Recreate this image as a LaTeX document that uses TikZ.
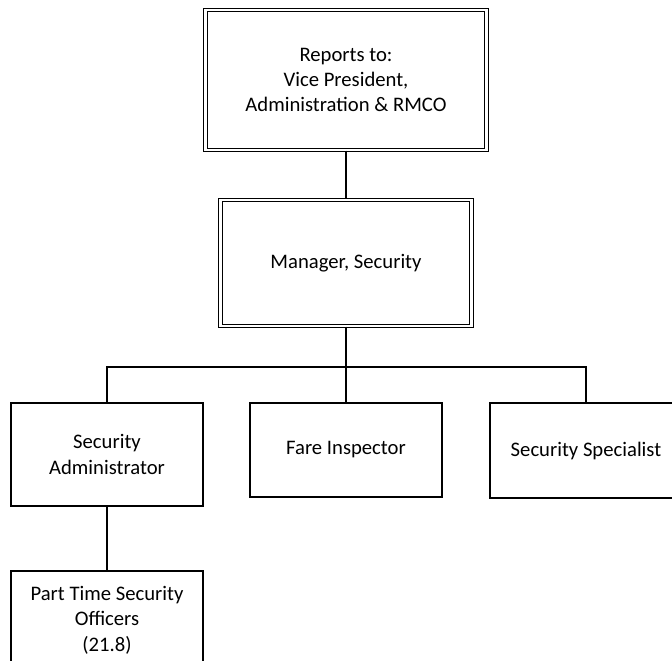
\documentclass[tikz,border=0pt]{standalone}
\usepackage{fontspec}
\setmainfont{Carlito}
\usepackage{tikz}
\usetikzlibrary{positioning}
\tikzset{headbox/.style={rectangle,draw,double,line width=0.8pt,double distance=1.8pt,align=center,inner sep=0pt},
         unitbox/.style={rectangle,draw,line width=1.1pt,align=center,inner sep=0pt,minimum width=144pt},
         link/.style={draw,line width=1.1pt}}

\begin{document}
\begin{tikzpicture}[x=0.75pt,y=-0.75pt,font=\fontsize{15.5}{19}\selectfont]
    \useasboundingbox (0,0) rectangle (672,661);
    \clip (0,0) rectangle (672,661);
    % Top levels
    \node (reports) at (346,80) [headbox,minimum width=210.75pt,minimum height=105pt]{Reports to:\\Vice President,\\Administration \& RMCO};
    \node (manager) at (346,263) [headbox,minimum width=188.25pt,minimum height=94.5pt]{Manager, Security};
    % Staff
    \node (admin) at (107,454.5) [unitbox,minimum height=77.25pt]{Security\\Administrator};
    \node (fare) at (346,450) [unitbox,minimum height=70.5pt]{Fare Inspector};
    \node (specialist) at (586,450.5) [unitbox,minimum height=71.25pt]{Security Specialist};
    \node (parttime) at (107,620) [unitbox,minimum height=73.5pt]{Part Time Security\\Officers\\(21.8)};
    \coordinate (bus) at (346,367);
    % Lines
    \draw[link] (reports.south) -- (manager.north);
    \draw[link] (manager.south) -- (bus);
    \draw[link] (bus) -| (admin.north);
    \draw[link] (bus) -- (fare.north);
    \draw[link] (bus) -| (specialist.north);
    \draw[link] (admin.south) -- (parttime.north);
  \end{tikzpicture}
\end{document}
